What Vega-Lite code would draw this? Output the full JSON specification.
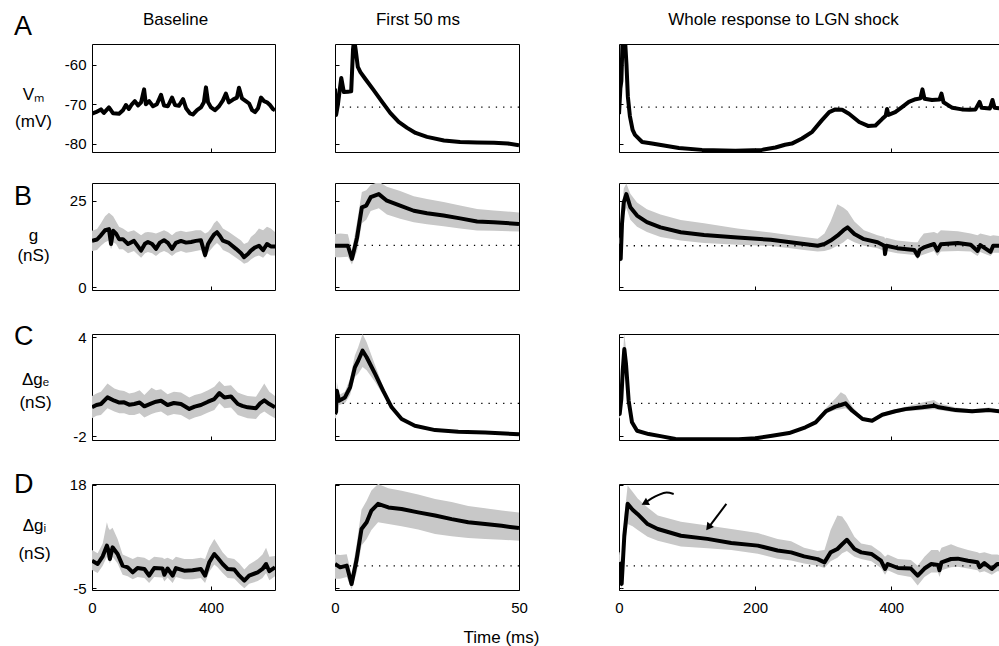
{
"$schema": "https://vega.github.io/schema/vega-lite/v6.json",
"background": "white",
"padding": {"left": 13, "top": 10, "right": 0, "bottom": 0},
"config": {
  "font": "Liberation Sans",
  "view": {"stroke": "black", "strokeWidth": 1},
  "axis": {"labelFont": "Liberation Sans", "labelFontSize": 15, "labelColor": "black", "tickColor": "black", "tickWidth": 1, "titleFont": "Liberation Sans", "titleFontSize": 17, "titleFontWeight": "normal", "titleColor": "black", "grid": false, "domain": false, "minExtent": 0, "labelExpr": "'' + datum.value"},
  "title": {"font": "Liberation Sans", "fontSize": 17, "fontWeight": "normal", "color": "black"}
},
"datasets": {
  "A1": [{"t":0,"v":-72.4},{"t":13,"v":-72.0},{"t":30,"v":-71.3},{"t":40,"v":-72.2},{"t":57,"v":-70.8},{"t":71,"v":-72.3},{"t":91,"v":-72.4},{"t":104,"v":-71.5},{"t":114,"v":-70.2},{"t":124,"v":-71.2},{"t":134,"v":-70.0},{"t":144,"v":-69.2},{"t":155,"v":-70.3},{"t":165,"v":-69.5},{"t":175,"v":-66.2},{"t":181,"v":-70.0},{"t":192,"v":-69.2},{"t":205,"v":-70.5},{"t":218,"v":-70.0},{"t":232,"v":-67.6},{"t":242,"v":-70.3},{"t":255,"v":-70.5},{"t":269,"v":-68.3},{"t":279,"v":-70.2},{"t":292,"v":-70.4},{"t":306,"v":-68.7},{"t":316,"v":-71.0},{"t":329,"v":-72.3},{"t":339,"v":-72.6},{"t":353,"v":-71.5},{"t":366,"v":-70.8},{"t":376,"v":-69.5},{"t":383,"v":-65.7},{"t":390,"v":-69.5},{"t":400,"v":-70.8},{"t":413,"v":-71.5},{"t":427,"v":-70.5},{"t":440,"v":-69.0},{"t":450,"v":-67.3},{"t":460,"v":-69.5},{"t":474,"v":-68.8},{"t":487,"v":-68.3},{"t":494,"v":-65.8},{"t":504,"v":-68.5},{"t":517,"v":-69.2},{"t":528,"v":-69.8},{"t":538,"v":-71.5},{"t":548,"v":-72.0},{"t":558,"v":-71.0},{"t":568,"v":-68.3},{"t":578,"v":-69.2},{"t":588,"v":-69.5},{"t":598,"v":-70.2},{"t":608,"v":-71.2},{"t":615,"v":-71.5}],
  "A2": [{"t":0,"v":-66},{"t":0.3,"v":-72.7},{"t":0.8,"v":-70},{"t":1.7,"v":-63.3},{"t":2.4,"v":-66.9},{"t":3.5,"v":-66.8},{"t":4.4,"v":-66.7},{"t":4.9,"v":-56},{"t":5.2,"v":-53.5},{"t":5.6,"v":-56},{"t":6.2,"v":-60.5},{"t":6.9,"v":-61.8},{"t":8.2,"v":-63.5},{"t":10.5,"v":-66.4},{"t":12.8,"v":-69.4},{"t":15,"v":-72.2},{"t":17.3,"v":-74.5},{"t":19.6,"v":-76.0},{"t":21.9,"v":-77.3},{"t":25,"v":-78.3},{"t":29.6,"v":-79.2},{"t":34,"v":-79.6},{"t":38.6,"v":-79.7},{"t":43.2,"v":-79.8},{"t":47,"v":-80.0},{"t":50,"v":-80.4}],
  "A3": [{"t":0,"v":-72.5},{"t":2,"v":-66},{"t":3.5,"v":-64},{"t":5,"v":-55},{"t":6,"v":-53.5},{"t":9,"v":-54},{"t":11,"v":-60},{"t":13,"v":-68},{"t":16,"v":-73},{"t":20,"v":-76.5},{"t":23.5,"v":-77.8},{"t":34,"v":-79.6},{"t":48.5,"v":-80.0},{"t":88,"v":-81.1},{"t":122,"v":-81.6},{"t":171,"v":-81.8},{"t":210,"v":-81.6},{"t":230,"v":-81.0},{"t":244,"v":-80.3},{"t":254,"v":-80.0},{"t":269,"v":-78.7},{"t":284,"v":-77.0},{"t":298,"v":-74.1},{"t":309,"v":-72.0},{"t":318,"v":-71.3},{"t":328,"v":-71.4},{"t":338,"v":-72.4},{"t":353,"v":-74.5},{"t":366,"v":-75.5},{"t":377,"v":-75.4},{"t":387,"v":-73.7},{"t":392,"v":-72.9},{"t":394,"v":-71.2},{"t":396,"v":-72.7},{"t":406,"v":-72.0},{"t":416,"v":-70.7},{"t":426,"v":-69.4},{"t":436,"v":-68.7},{"t":443,"v":-68.5},{"t":446,"v":-66.2},{"t":449,"v":-68.6},{"t":460,"v":-68.9},{"t":471,"v":-68.8},{"t":474,"v":-67.3},{"t":477,"v":-69.5},{"t":490,"v":-70.9},{"t":504,"v":-71.3},{"t":515,"v":-71.4},{"t":524,"v":-71.3},{"t":530,"v":-69.4},{"t":533,"v":-70.9},{"t":545,"v":-71.1},{"t":549,"v":-68.9},{"t":552,"v":-70.9},{"t":560,"v":-71.0}],
  "B1": [{"t":0,"v":13.45,"lo":10.5,"hi":16.3},{"t":17,"v":13.8,"lo":10.8,"hi":16.8},{"t":30,"v":15.0,"lo":12.0,"hi":18.5},{"t":44,"v":16.5,"lo":13.0,"hi":20.5},{"t":57,"v":16.8,"lo":13.5,"hi":21.5},{"t":64,"v":12.5,"lo":11.0,"hi":21.0},{"t":71,"v":16.3,"lo":13.0,"hi":20.5},{"t":81,"v":15.5,"lo":12.5,"hi":19.0},{"t":91,"v":13.9,"lo":11.0,"hi":17.5},{"t":104,"v":13.9,"lo":11.0,"hi":17.0},{"t":121,"v":12.5,"lo":9.8,"hi":16.0},{"t":141,"v":13.4,"lo":10.5,"hi":16.5},{"t":165,"v":10.6,"lo":8.5,"hi":15.0},{"t":178,"v":12.6,"lo":9.8,"hi":15.8},{"t":188,"v":13.1,"lo":10.2,"hi":16.0},{"t":202,"v":12.5,"lo":9.8,"hi":15.8},{"t":215,"v":11.1,"lo":9.0,"hi":15.5},{"t":228,"v":12.9,"lo":10.0,"hi":16.0},{"t":242,"v":13.6,"lo":10.5,"hi":16.5},{"t":255,"v":12.8,"lo":10.0,"hi":16.0},{"t":269,"v":11.1,"lo":9.0,"hi":15.0},{"t":282,"v":12.8,"lo":10.0,"hi":16.0},{"t":299,"v":13.4,"lo":10.5,"hi":16.3},{"t":316,"v":12.9,"lo":10.0,"hi":16.0},{"t":333,"v":13.1,"lo":10.2,"hi":16.2},{"t":349,"v":13.4,"lo":10.5,"hi":16.5},{"t":366,"v":13.6,"lo":10.8,"hi":16.5},{"t":380,"v":9.3,"lo":8.0,"hi":15.5},{"t":390,"v":12.5,"lo":10.0,"hi":16.0},{"t":400,"v":13.9,"lo":11.0,"hi":17.0},{"t":410,"v":15.2,"lo":12.0,"hi":18.5},{"t":420,"v":15.9,"lo":12.8,"hi":19.3},{"t":430,"v":14.8,"lo":12.0,"hi":18.3},{"t":440,"v":13.45,"lo":10.8,"hi":17.0},{"t":460,"v":12.8,"lo":10.0,"hi":16.0},{"t":484,"v":11.1,"lo":8.5,"hi":14.5},{"t":501,"v":9.8,"lo":7.5,"hi":13.5},{"t":511,"v":8.7,"lo":6.8,"hi":12.5},{"t":524,"v":9.6,"lo":7.2,"hi":13.0},{"t":534,"v":10.6,"lo":8.0,"hi":14.5},{"t":548,"v":11.5,"lo":8.8,"hi":15.5},{"t":561,"v":12.0,"lo":9.2,"hi":17.0},{"t":575,"v":10.7,"lo":8.5,"hi":16.5},{"t":588,"v":12.5,"lo":9.8,"hi":17.5},{"t":601,"v":11.8,"lo":9.2,"hi":17.0},{"t":615,"v":11.8,"lo":9.2,"hi":16.0}],
  "B2": [{"t":0,"v":12.0,"lo":8.7,"hi":15.4},{"t":1.5,"v":12.0,"lo":8.7,"hi":15.5},{"t":3.5,"v":12.0,"lo":8.8,"hi":15.3},{"t":4.6,"v":8.2,"lo":6.6,"hi":10.5},{"t":6.0,"v":14.4,"lo":10.5,"hi":19.0},{"t":7.3,"v":23.1,"lo":18.5,"hi":27.5},{"t":8.5,"v":23.6,"lo":19.5,"hi":28.0},{"t":9.7,"v":26.0,"lo":22.0,"hi":29.5},{"t":11.9,"v":26.9,"lo":22.8,"hi":30.5},{"t":14.1,"v":25.0,"lo":21.0,"hi":29.0},{"t":17.7,"v":23.6,"lo":19.8,"hi":27.8},{"t":21.4,"v":22.1,"lo":18.8,"hi":26.3},{"t":25,"v":21.4,"lo":18.2,"hi":25.5},{"t":29.5,"v":20.7,"lo":17.6,"hi":24.6},{"t":34,"v":19.9,"lo":17.0,"hi":23.6},{"t":38.6,"v":19.0,"lo":16.4,"hi":22.6},{"t":43.1,"v":18.8,"lo":16.3,"hi":22.2},{"t":50,"v":18.3,"lo":16.1,"hi":21.6}],
  "B3": [{"t":0,"v":11.5,"lo":9.5,"hi":14.0},{"t":1,"v":12.0,"lo":9.5,"hi":14.5},{"t":2.5,"v":8.2,"lo":6.5,"hi":10.0},{"t":4.4,"v":18.3,"lo":14.5,"hi":22.0},{"t":7,"v":24.5,"lo":20.5,"hi":28.5},{"t":10.8,"v":26.9,"lo":23.0,"hi":30.0},{"t":16.7,"v":23.1,"lo":19.5,"hi":27.0},{"t":26.5,"v":20.7,"lo":17.5,"hi":24.5},{"t":41,"v":18.8,"lo":16.0,"hi":22.5},{"t":61,"v":17.3,"lo":14.5,"hi":21.0},{"t":90.7,"v":15.9,"lo":13.5,"hi":19.4},{"t":125,"v":15.1,"lo":12.8,"hi":18.5},{"t":174,"v":14.4,"lo":12.3,"hi":17.0},{"t":223,"v":13.7,"lo":11.9,"hi":15.8},{"t":252,"v":13.0,"lo":11.3,"hi":15.0},{"t":272,"v":12.5,"lo":10.8,"hi":14.5},{"t":292,"v":12.0,"lo":10.3,"hi":14.0},{"t":302,"v":12.5,"lo":10.5,"hi":15.5},{"t":311,"v":13.5,"lo":11.0,"hi":19.0},{"t":321,"v":14.9,"lo":12.0,"hi":24.0},{"t":330,"v":16.5,"lo":13.0,"hi":23.0},{"t":336,"v":17.3,"lo":14.0,"hi":22.0},{"t":346,"v":15.4,"lo":13.0,"hi":19.0},{"t":360,"v":13.9,"lo":12.0,"hi":16.5},{"t":380,"v":13.0,"lo":11.3,"hi":15.0},{"t":390,"v":12.0,"lo":10.5,"hi":14.5},{"t":391,"v":9.6,"lo":8.5,"hi":14.0},{"t":393,"v":12.0,"lo":10.5,"hi":14.3},{"t":409,"v":11.3,"lo":9.8,"hi":13.5},{"t":434,"v":10.8,"lo":9.3,"hi":13.0},{"t":439,"v":9.1,"lo":8.0,"hi":13.0},{"t":442,"v":10.8,"lo":9.0,"hi":14.0},{"t":448,"v":11.5,"lo":9.5,"hi":15.5},{"t":463,"v":12.5,"lo":10.5,"hi":16.0},{"t":468,"v":10.6,"lo":9.0,"hi":15.5},{"t":473,"v":12.4,"lo":10.3,"hi":16.5},{"t":498,"v":12.8,"lo":10.5,"hi":16.2},{"t":517,"v":12.3,"lo":10.3,"hi":15.5},{"t":527,"v":10.5,"lo":9.0,"hi":15.0},{"t":531,"v":12.2,"lo":10.2,"hi":15.5},{"t":546,"v":10.2,"lo":9.0,"hi":14.8},{"t":550,"v":12.0,"lo":10.0,"hi":15.0},{"t":560,"v":12.0,"lo":10.0,"hi":14.8}],
  "C1": [{"t":0,"v":-0.24,"lo":-0.9,"hi":0.45},{"t":15,"v":-0.1,"lo":-0.75,"hi":0.6},{"t":30,"v":-0.04,"lo":-0.7,"hi":0.7},{"t":52,"v":0.36,"lo":-0.3,"hi":1.2},{"t":75,"v":0.16,"lo":-0.5,"hi":0.9},{"t":92,"v":0.05,"lo":-0.6,"hi":0.8},{"t":108,"v":0.06,"lo":-0.6,"hi":0.75},{"t":125,"v":-0.08,"lo":-0.7,"hi":0.6},{"t":142,"v":-0.04,"lo":-0.7,"hi":0.65},{"t":160,"v":0.05,"lo":-0.6,"hi":0.8},{"t":176,"v":-0.18,"lo":-0.85,"hi":0.5},{"t":200,"v":0.0,"lo":-0.65,"hi":0.95},{"t":215,"v":0.1,"lo":-0.55,"hi":0.8},{"t":232,"v":0.16,"lo":-0.5,"hi":0.85},{"t":254,"v":-0.10,"lo":-0.75,"hi":0.55},{"t":275,"v":0.02,"lo":-0.65,"hi":0.7},{"t":299,"v":-0.04,"lo":-0.7,"hi":0.65},{"t":327,"v":-0.34,"lo":-1.0,"hi":0.35},{"t":345,"v":-0.2,"lo":-0.85,"hi":0.5},{"t":366,"v":-0.10,"lo":-0.75,"hi":0.6},{"t":390,"v":0.1,"lo":-0.55,"hi":0.8},{"t":411,"v":0.26,"lo":-0.4,"hi":1.0},{"t":428,"v":0.62,"lo":0.0,"hi":1.35},{"t":445,"v":0.36,"lo":-0.3,"hi":1.05},{"t":467,"v":0.42,"lo":-0.25,"hi":1.1},{"t":490,"v":-0.04,"lo":-0.7,"hi":0.65},{"t":505,"v":-0.15,"lo":-0.8,"hi":0.55},{"t":523,"v":-0.24,"lo":-0.9,"hi":0.45},{"t":551,"v":-0.30,"lo":-0.95,"hi":0.4},{"t":565,"v":0.0,"lo":-0.65,"hi":0.8},{"t":579,"v":0.18,"lo":-0.5,"hi":1.2},{"t":596,"v":-0.04,"lo":-0.7,"hi":0.7},{"t":615,"v":-0.24,"lo":-0.9,"hi":0.45}],
  "C2": [{"t":0,"v":-0.65,"lo":-0.9,"hi":-0.3},{"t":0.3,"v":-0.5,"lo":-0.9,"hi":0.0},{"t":0.5,"v":0.76,"lo":0.4,"hi":1.3},{"t":1.1,"v":0.16,"lo":-0.1,"hi":0.5},{"t":2.7,"v":0.36,"lo":0.0,"hi":0.7},{"t":4.1,"v":0.97,"lo":0.5,"hi":1.5},{"t":5.4,"v":2.18,"lo":1.6,"hi":2.9},{"t":6.3,"v":2.58,"lo":1.8,"hi":3.4},{"t":7.5,"v":3.19,"lo":2.2,"hi":4.2},{"t":8.6,"v":2.79,"lo":2.0,"hi":3.7},{"t":10.9,"v":1.78,"lo":1.3,"hi":2.3},{"t":13.1,"v":0.76,"lo":0.5,"hi":1.0},{"t":15.4,"v":-0.24,"lo":-0.35,"hi":-0.1},{"t":18.1,"v":-0.95,"lo":-1.0,"hi":-0.85},{"t":21.7,"v":-1.36,"lo":-1.4,"hi":-1.3},{"t":27.2,"v":-1.62,"lo":-1.66,"hi":-1.58},{"t":33.5,"v":-1.72,"lo":-1.75,"hi":-1.69},{"t":40.8,"v":-1.76,"lo":-1.79,"hi":-1.73},{"t":50,"v":-1.87,"lo":-1.9,"hi":-1.84}],
  "C3": [{"t":0,"v":-0.65,"lo":-0.9,"hi":-0.3},{"t":1,"v":-0.65,"lo":-0.9,"hi":-0.3},{"t":3.4,"v":0.26,"lo":-0.1,"hi":0.7},{"t":5.5,"v":2.0,"lo":1.3,"hi":2.8},{"t":7.8,"v":3.29,"lo":2.0,"hi":4.2},{"t":10.3,"v":2.38,"lo":1.6,"hi":3.3},{"t":14.2,"v":0.16,"lo":-0.1,"hi":0.5},{"t":19.1,"v":-1.15,"lo":-1.25,"hi":-1.0},{"t":26.5,"v":-1.66,"lo":-1.72,"hi":-1.6},{"t":43.6,"v":-1.86,"lo":-1.9,"hi":-1.82},{"t":63,"v":-2.0,"lo":-2.04,"hi":-1.96},{"t":83,"v":-2.16,"lo":-2.2,"hi":-2.12},{"t":127,"v":-2.18,"lo":-2.22,"hi":-2.14},{"t":176,"v":-2.18,"lo":-2.22,"hi":-2.14},{"t":201,"v":-2.12,"lo":-2.16,"hi":-2.08},{"t":225,"v":-1.96,"lo":-2.0,"hi":-1.92},{"t":250,"v":-1.80,"lo":-1.85,"hi":-1.75},{"t":274,"v":-1.45,"lo":-1.5,"hi":-1.38},{"t":289,"v":-1.15,"lo":-1.22,"hi":-1.05},{"t":304,"v":-0.48,"lo":-0.6,"hi":-0.3},{"t":318,"v":-0.2,"lo":-0.4,"hi":0.3},{"t":326,"v":-0.1,"lo":-0.35,"hi":0.67},{"t":333,"v":0.0,"lo":-0.3,"hi":0.5},{"t":343,"v":-0.45,"lo":-0.6,"hi":-0.2},{"t":358,"v":-0.95,"lo":-1.05,"hi":-0.85},{"t":372,"v":-1.05,"lo":-1.12,"hi":-0.95},{"t":387,"v":-0.69,"lo":-0.78,"hi":-0.58},{"t":406,"v":-0.48,"lo":-0.6,"hi":-0.35},{"t":421,"v":-0.35,"lo":-0.48,"hi":-0.2},{"t":446,"v":-0.24,"lo":-0.4,"hi":0.05},{"t":463,"v":-0.14,"lo":-0.35,"hi":0.2},{"t":470,"v":-0.24,"lo":-0.4,"hi":0.0},{"t":495,"v":-0.41,"lo":-0.55,"hi":-0.25},{"t":519,"v":-0.48,"lo":-0.6,"hi":-0.35},{"t":544,"v":-0.41,"lo":-0.52,"hi":-0.25},{"t":560,"v":-0.48,"lo":-0.58,"hi":-0.38}],
  "D1": [{"t":0,"v":1.14,"lo":-0.9,"hi":3.5},{"t":19,"v":0.41,"lo":-1.6,"hi":2.8},{"t":36,"v":2.12,"lo":0.0,"hi":5.0},{"t":50,"v":4.49,"lo":2.0,"hi":9.7},{"t":55,"v":3.5,"lo":1.5,"hi":8.5},{"t":60,"v":1.52,"lo":0.5,"hi":8.0},{"t":69,"v":4.12,"lo":2.0,"hi":8.5},{"t":86,"v":2.64,"lo":0.5,"hi":6.0},{"t":103,"v":0.03,"lo":-2.0,"hi":2.5},{"t":120,"v":-0.33,"lo":-2.3,"hi":2.0},{"t":137,"v":-1.44,"lo":-3.0,"hi":1.5},{"t":153,"v":-0.5,"lo":-2.5,"hi":2.0},{"t":176,"v":-0.70,"lo":-2.7,"hi":1.8},{"t":192,"v":-2.19,"lo":-3.8,"hi":1.2},{"t":209,"v":-0.5,"lo":-2.5,"hi":2.0},{"t":237,"v":-0.6,"lo":-2.6,"hi":1.8},{"t":243,"v":-2.0,"lo":-3.5,"hi":1.5},{"t":254,"v":-0.6,"lo":-2.6,"hi":1.8},{"t":271,"v":-2.19,"lo":-3.8,"hi":1.3},{"t":282,"v":-0.5,"lo":-2.5,"hi":2.0},{"t":310,"v":-1.08,"lo":-3.0,"hi":1.5},{"t":338,"v":-1.0,"lo":-3.0,"hi":1.5},{"t":366,"v":-0.7,"lo":-2.7,"hi":1.8},{"t":380,"v":-2.19,"lo":-3.8,"hi":1.5},{"t":394,"v":0.78,"lo":-1.3,"hi":4.0},{"t":411,"v":2.64,"lo":0.3,"hi":6.0},{"t":422,"v":1.8,"lo":-0.3,"hi":4.8},{"t":439,"v":0.41,"lo":-1.6,"hi":3.0},{"t":456,"v":-0.7,"lo":-2.7,"hi":1.8},{"t":478,"v":-0.8,"lo":-2.8,"hi":1.5},{"t":495,"v":-2.19,"lo":-4.0,"hi":0.5},{"t":512,"v":-3.31,"lo":-5.0,"hi":-0.8},{"t":528,"v":-2.19,"lo":-4.0,"hi":0.3},{"t":557,"v":-1.44,"lo":-3.4,"hi":1.5},{"t":573,"v":-0.7,"lo":-2.7,"hi":2.5},{"t":585,"v":0.41,"lo":-1.6,"hi":4.0},{"t":596,"v":-1.2,"lo":-3.2,"hi":2.0},{"t":615,"v":-0.33,"lo":-2.3,"hi":2.2}],
  "D2": [{"t":0,"v":0.41,"lo":-2.9,"hi":2.6},{"t":1.4,"v":-0.33,"lo":-2.9,"hi":2.4},{"t":3.2,"v":0.04,"lo":-2.5,"hi":2.6},{"t":4.5,"v":-4.04,"lo":-5.2,"hi":-2.0},{"t":5.9,"v":1.52,"lo":-1.5,"hi":5.0},{"t":7.2,"v":8.2,"lo":4.5,"hi":12.5},{"t":8.6,"v":9.7,"lo":6.0,"hi":14.5},{"t":9.9,"v":12.3,"lo":8.0,"hi":16.8},{"t":11.7,"v":13.8,"lo":9.7,"hi":18.2},{"t":14.5,"v":13.0,"lo":9.3,"hi":17.3},{"t":18.1,"v":12.65,"lo":8.8,"hi":16.7},{"t":22.6,"v":11.9,"lo":8.1,"hi":15.9},{"t":27.2,"v":11.2,"lo":7.1,"hi":14.9},{"t":31.7,"v":10.4,"lo":6.6,"hi":14.2},{"t":36.2,"v":9.7,"lo":6.2,"hi":13.3},{"t":40.8,"v":9.3,"lo":6.0,"hi":12.8},{"t":45.3,"v":8.9,"lo":5.8,"hi":12.3},{"t":50,"v":8.4,"lo":5.6,"hi":11.9}],
  "D3": [{"t":0,"v":0.78,"lo":-1.5,"hi":3.0},{"t":1,"v":0.5,"lo":-2.0,"hi":3.0},{"t":3.9,"v":-4.04,"lo":-5.3,"hi":-1.5},{"t":7.8,"v":6.7,"lo":3.0,"hi":11.0},{"t":12.7,"v":13.8,"lo":9.3,"hi":17.9},{"t":20,"v":12.5,"lo":8.8,"hi":16.5},{"t":27.5,"v":11.5,"lo":8.0,"hi":15.0},{"t":42,"v":9.3,"lo":6.5,"hi":13.0},{"t":57,"v":8.2,"lo":5.6,"hi":11.2},{"t":91,"v":6.7,"lo":4.3,"hi":9.8},{"t":130,"v":6.0,"lo":3.9,"hi":9.0},{"t":165,"v":5.1,"lo":3.5,"hi":8.2},{"t":204,"v":4.5,"lo":2.7,"hi":7.3},{"t":233,"v":3.4,"lo":1.6,"hi":6.0},{"t":253,"v":3.0,"lo":1.2,"hi":5.5},{"t":272,"v":2.1,"lo":0.5,"hi":4.0},{"t":292,"v":1.5,"lo":0.0,"hi":3.3},{"t":302,"v":0.78,"lo":-0.5,"hi":3.5},{"t":311,"v":3.0,"lo":1.0,"hi":8.0},{"t":321,"v":3.75,"lo":1.8,"hi":11.2},{"t":328,"v":4.8,"lo":2.8,"hi":11.0},{"t":335,"v":5.8,"lo":3.3,"hi":9.5},{"t":346,"v":3.75,"lo":2.0,"hi":6.5},{"t":356,"v":3.0,"lo":1.5,"hi":5.0},{"t":371,"v":2.64,"lo":1.0,"hi":4.5},{"t":385,"v":1.14,"lo":-0.5,"hi":3.0},{"t":391,"v":-0.70,"lo":-2.0,"hi":2.0},{"t":395,"v":0.41,"lo":-1.0,"hi":2.5},{"t":410,"v":-0.48,"lo":-2.0,"hi":1.5},{"t":429,"v":-0.6,"lo":-2.5,"hi":1.3},{"t":439,"v":-2.19,"lo":-4.4,"hi":0.0},{"t":449,"v":-0.6,"lo":-2.5,"hi":2.0},{"t":459,"v":0.41,"lo":-1.5,"hi":3.5},{"t":469,"v":0.2,"lo":-1.5,"hi":3.5},{"t":471,"v":-1.0,"lo":-2.5,"hi":3.0},{"t":474,"v":0.78,"lo":-1.0,"hi":4.0},{"t":488,"v":1.52,"lo":-0.3,"hi":4.8},{"t":498,"v":1.6,"lo":-0.2,"hi":4.2},{"t":513,"v":1.14,"lo":-0.6,"hi":3.5},{"t":527,"v":0.78,"lo":-1.0,"hi":3.0},{"t":530,"v":-0.3,"lo":-1.5,"hi":2.8},{"t":537,"v":0.6,"lo":-1.2,"hi":3.0},{"t":548,"v":-0.7,"lo":-2.0,"hi":2.5},{"t":556,"v":0.41,"lo":-1.2,"hi":2.5},{"t":560,"v":0.41,"lo":-1.2,"hi":2.4}],
  "arrowCurve": [{"t":80.4,"v":16.0},{"t":70,"v":16.3},{"t":58.3,"v":15.8},{"t":48,"v":15.0},{"t":40,"v":14.2}],
  "arrowStraight": [{"t":157.8,"v":13.8},{"t":134,"v":9.0}],
  "headCurve": [{"t":39.5,"v":14.1}],
  "headStraight": [{"t":132.5,"v":8.8}]
},
"hconcat": [
  {
    "spacing": 29,
    "vconcat": [
      {
        "width": 183, "height": 108,
        "title": {"text": "Baseline", "frame": "group", "anchor": "middle", "dx": -8, "baseline": "alphabetic", "offset": -28.5},
        "layer": [
          {"data": {"name": "A1"}, "mark": {"type": "line", "color": "black", "strokeWidth": 4, "clip": true, "strokeJoin": "round"},
           "encoding": {"x": {"field": "t", "type": "quantitative", "scale": {"domain": [0, 615], "nice": false, "zero": false}, "axis": {"values": [0, 400], "labels": false, "tickSize": -4, "title": null}},
                        "y": {"field": "v", "type": "quantitative", "scale": {"domain": [-82.14, -54.66], "nice": false, "zero": false}, "axis": {"values": [-80, -70, -60], "tickSize": -4, "labelPadding": 10, "title": ["Vₘ", "(mV)"], "titleAngle": 0, "titleX": -59, "titleY": 50, "titleAlign": "center", "titleBaseline": "middle", "titleLineHeight": 27}}}},
          {"data": {"values": [{"label": "A"}]}, "mark": {"type": "text", "fontSize": 27, "align": "left", "baseline": "alphabetic", "color": "black"},
           "encoding": {"x": {"datum": -262}, "y": {"datum": -52.37}, "text": {"field": "label"}}}
        ]
      },
      {
        "spacing": 44, "bounds": "flush",
        "vconcat": [
          {
            "width": 183, "height": 107,
            "layer": [
              {"data": {"name": "B1"}, "mark": {"type": "area", "color": "#c8c8c8", "clip": true},
               "encoding": {"x": {"field": "t", "type": "quantitative", "scale": {"domain": [0, 615], "nice": false, "zero": false}, "axis": {"values": [0, 400], "labels": false, "tickSize": -4, "title": null}},
                            "y": {"field": "lo", "type": "quantitative", "scale": {"domain": [-0.78, 30.11], "nice": false, "zero": false}, "axis": {"values": [0, 25], "tickSize": -4, "labelPadding": 10, "title": ["g", "(nS)"], "titleAngle": 0, "titleX": -59, "titleY": 52, "titleAlign": "center", "titleBaseline": "middle", "titleLineHeight": 20}},
                            "y2": {"field": "hi"}}},
              {"data": {"name": "B1"}, "mark": {"type": "line", "color": "black", "strokeWidth": 4, "clip": true, "strokeJoin": "round"},
               "encoding": {"x": {"field": "t", "type": "quantitative"}, "y": {"field": "v", "type": "quantitative"}}},
              {"data": {"values": [{"label": "B"}]}, "mark": {"type": "text", "fontSize": 27, "align": "left", "baseline": "alphabetic", "color": "black"},
               "encoding": {"x": {"datum": -262}, "y": {"datum": 23.76}, "text": {"field": "label"}}}
            ]
          },
          {
            "width": 183, "height": 106,
            "layer": [
              {"data": {"name": "C1"}, "mark": {"type": "area", "color": "#c8c8c8", "clip": true},
               "encoding": {"x": {"field": "t", "type": "quantitative", "scale": {"domain": [0, 615], "nice": false, "zero": false}, "axis": {"values": [0, 400], "labels": false, "tickSize": -4, "title": null}},
                            "y": {"field": "lo", "type": "quantitative", "scale": {"domain": [-2.22, 4.2], "nice": false, "zero": false}, "axis": {"values": [-2, 4], "tickSize": -4, "labelPadding": 10, "title": ["Δgₑ", "(nS)"], "titleAngle": 0, "titleX": -57, "titleY": 45, "titleAlign": "center", "titleBaseline": "middle", "titleLineHeight": 23}},
                            "y2": {"field": "hi"}}},
              {"data": {"name": "C1"}, "mark": {"type": "line", "color": "black", "strokeWidth": 4, "clip": true, "strokeJoin": "round"},
               "encoding": {"x": {"field": "t", "type": "quantitative"}, "y": {"field": "v", "type": "quantitative"}}},
              {"data": {"values": [{"label": "C"}]}, "mark": {"type": "text", "fontSize": 27, "align": "left", "baseline": "alphabetic", "color": "black"},
               "encoding": {"x": {"datum": -262}, "y": {"datum": 3.53}, "text": {"field": "label"}}}
            ]
          },
          {
            "width": 183, "height": 106,
            "layer": [
              {"data": {"name": "D1"}, "mark": {"type": "area", "color": "#c8c8c8", "clip": true},
               "encoding": {"x": {"field": "t", "type": "quantitative", "scale": {"domain": [0, 615], "nice": false, "zero": false}, "axis": {"values": [0, 400], "labelFlush": false, "tickSize": -4, "labelPadding": 14, "title": null}},
                            "y": {"field": "lo", "type": "quantitative", "scale": {"domain": [-5.38, 18.22], "nice": false, "zero": false}, "axis": {"values": [-5, 18], "tickSize": -4, "labelPadding": 10, "title": ["Δgᵢ", "(nS)"], "titleAngle": 0, "titleX": -58, "titleY": 41, "titleAlign": "center", "titleBaseline": "middle", "titleLineHeight": 28}},
                            "y2": {"field": "hi"}}},
              {"data": {"name": "D1"}, "mark": {"type": "line", "color": "black", "strokeWidth": 4, "clip": true, "strokeJoin": "round"},
               "encoding": {"x": {"field": "t", "type": "quantitative"}, "y": {"field": "v", "type": "quantitative"}}},
              {"data": {"values": [{"label": "D"}]}, "mark": {"type": "text", "fontSize": 27, "align": "left", "baseline": "alphabetic", "color": "black"},
               "encoding": {"x": {"datum": -262}, "y": {"datum": 16.2}, "text": {"field": "label"}}}
            ]
          }
        ]
      }
    ]
  },
  {
    "spacing": 74,
    "hconcat": [
      {
        "spacing": 29,
        "vconcat": [
          {
            "width": 184, "height": 108,
            "title": {"text": "First 50 ms", "frame": "group", "anchor": "middle", "dx": -9, "baseline": "alphabetic", "offset": 2.5},
            "layer": [
              {"data": {"values": [{"base": -70.7}]}, "mark": {"type": "rule", "color": "black", "strokeWidth": 1.3, "strokeDash": [1.3, 6]},
               "encoding": {"y": {"field": "base", "type": "quantitative", "scale": {"domain": [-82.14, -54.66], "nice": false, "zero": false}, "axis": {"values": [-80, -70, -60], "labels": false, "tickSize": -4, "title": null}}}},
              {"data": {"name": "A2"}, "mark": {"type": "line", "color": "black", "strokeWidth": 4, "clip": true, "strokeJoin": "round"},
               "encoding": {"x": {"field": "t", "type": "quantitative", "scale": {"domain": [0, 50], "nice": false, "zero": false}, "axis": {"values": [0, 50], "labels": false, "tickSize": -4, "title": null}},
                            "y": {"field": "v", "type": "quantitative"}}}
            ]
          },
          {
            "spacing": 44, "bounds": "flush",
            "vconcat": [
              {
                "width": 184, "height": 107,
                "layer": [
                  {"data": {"name": "B2"}, "mark": {"type": "area", "color": "#c8c8c8", "clip": true},
                   "encoding": {"x": {"field": "t", "type": "quantitative", "scale": {"domain": [0, 50], "nice": false, "zero": false}, "axis": {"values": [0, 50], "labels": false, "tickSize": -4, "title": null}},
                                "y": {"field": "lo", "type": "quantitative", "scale": {"domain": [-0.78, 30.11], "nice": false, "zero": false}, "axis": {"values": [0, 25], "labels": false, "tickSize": -4, "title": null}},
                                "y2": {"field": "hi"}}},
                  {"data": {"values": [{"base": 12.1}]}, "mark": {"type": "rule", "color": "black", "strokeWidth": 1.3, "strokeDash": [1.3, 6]},
                   "encoding": {"y": {"field": "base", "type": "quantitative"}}},
                  {"data": {"name": "B2"}, "mark": {"type": "line", "color": "black", "strokeWidth": 4, "clip": true, "strokeJoin": "round"},
                   "encoding": {"x": {"field": "t", "type": "quantitative"}, "y": {"field": "v", "type": "quantitative"}}}
                ]
              },
              {
                "width": 184, "height": 106,
                "layer": [
                  {"data": {"name": "C2"}, "mark": {"type": "area", "color": "#c8c8c8", "clip": true},
                   "encoding": {"x": {"field": "t", "type": "quantitative", "scale": {"domain": [0, 50], "nice": false, "zero": false}, "axis": {"values": [0, 50], "labels": false, "tickSize": -4, "title": null}},
                                "y": {"field": "lo", "type": "quantitative", "scale": {"domain": [-2.22, 4.2], "nice": false, "zero": false}, "axis": {"values": [-2, 4], "labels": false, "tickSize": -4, "title": null}},
                                "y2": {"field": "hi"}}},
                  {"data": {"values": [{"base": 0}]}, "mark": {"type": "rule", "color": "black", "strokeWidth": 1.3, "strokeDash": [1.3, 6]},
                   "encoding": {"y": {"field": "base", "type": "quantitative"}}},
                  {"data": {"name": "C2"}, "mark": {"type": "line", "color": "black", "strokeWidth": 4, "clip": true, "strokeJoin": "round"},
                   "encoding": {"x": {"field": "t", "type": "quantitative"}, "y": {"field": "v", "type": "quantitative"}}}
                ]
              },
              {
                "width": 184, "height": 106,
                "layer": [
                  {"data": {"name": "D2"}, "mark": {"type": "area", "color": "#c8c8c8", "clip": true},
                   "encoding": {"x": {"field": "t", "type": "quantitative", "scale": {"domain": [0, 50], "nice": false, "zero": false}, "axis": {"values": [0, 50], "labelFlush": false, "tickSize": -4, "labelPadding": 14, "title": "Time (ms)", "titleX": 166, "titleY": 52, "titleAlign": "center", "titleBaseline": "alphabetic"}},
                                "y": {"field": "lo", "type": "quantitative", "scale": {"domain": [-5.38, 18.22], "nice": false, "zero": false}, "axis": {"values": [-5, 18], "labels": false, "tickSize": -4, "title": null}},
                                "y2": {"field": "hi"}}},
                  {"data": {"values": [{"base": 0}]}, "mark": {"type": "rule", "color": "black", "strokeWidth": 1.3, "strokeDash": [1.3, 6]},
                   "encoding": {"y": {"field": "base", "type": "quantitative"}}},
                  {"data": {"name": "D2"}, "mark": {"type": "line", "color": "black", "strokeWidth": 4, "clip": true, "strokeJoin": "round"},
                   "encoding": {"x": {"field": "t", "type": "quantitative"}, "y": {"field": "v", "type": "quantitative"}}}
                ]
              }
            ]
          }
        ]
      },
      {
        "spacing": 29,
        "vconcat": [
          {
            "width": 381, "height": 108,
            "title": {"text": "Whole response to LGN shock", "frame": "group", "anchor": "middle", "dx": -26, "baseline": "alphabetic", "offset": 2.5},
            "layer": [
              {"data": {"values": [{"base": -70.7}]}, "mark": {"type": "rule", "color": "black", "strokeWidth": 1.3, "strokeDash": [1.3, 6]},
               "encoding": {"y": {"field": "base", "type": "quantitative", "scale": {"domain": [-82.14, -54.66], "nice": false, "zero": false}, "axis": {"values": [-80, -70, -60], "labels": false, "tickSize": -4, "title": null}}}},
              {"data": {"name": "A3"}, "mark": {"type": "line", "color": "black", "strokeWidth": 4, "clip": true, "strokeJoin": "round"},
               "encoding": {"x": {"field": "t", "type": "quantitative", "scale": {"domain": [0, 560], "nice": false, "zero": false}, "axis": {"values": [0, 200, 400], "labels": false, "tickSize": -4, "title": null}},
                            "y": {"field": "v", "type": "quantitative"}}}
            ]
          },
          {
            "spacing": 44, "bounds": "flush",
            "vconcat": [
              {
                "width": 381, "height": 107,
                "layer": [
                  {"data": {"name": "B3"}, "mark": {"type": "area", "color": "#c8c8c8", "clip": true},
                   "encoding": {"x": {"field": "t", "type": "quantitative", "scale": {"domain": [0, 560], "nice": false, "zero": false}, "axis": {"values": [0, 200, 400], "labels": false, "tickSize": -4, "title": null}},
                                "y": {"field": "lo", "type": "quantitative", "scale": {"domain": [-0.78, 30.11], "nice": false, "zero": false}, "axis": {"values": [0, 25], "labels": false, "tickSize": -4, "title": null}},
                                "y2": {"field": "hi"}}},
                  {"data": {"values": [{"base": 12.0}]}, "mark": {"type": "rule", "color": "black", "strokeWidth": 1.3, "strokeDash": [1.3, 6]},
                   "encoding": {"y": {"field": "base", "type": "quantitative"}}},
                  {"data": {"name": "B3"}, "mark": {"type": "line", "color": "black", "strokeWidth": 4, "clip": true, "strokeJoin": "round"},
                   "encoding": {"x": {"field": "t", "type": "quantitative"}, "y": {"field": "v", "type": "quantitative"}}}
                ]
              },
              {
                "width": 381, "height": 106,
                "layer": [
                  {"data": {"name": "C3"}, "mark": {"type": "area", "color": "#c8c8c8", "clip": true},
                   "encoding": {"x": {"field": "t", "type": "quantitative", "scale": {"domain": [0, 560], "nice": false, "zero": false}, "axis": {"values": [0, 200, 400], "labels": false, "tickSize": -4, "title": null}},
                                "y": {"field": "lo", "type": "quantitative", "scale": {"domain": [-2.22, 4.2], "nice": false, "zero": false}, "axis": {"values": [-2, 4], "labels": false, "tickSize": -4, "title": null}},
                                "y2": {"field": "hi"}}},
                  {"data": {"values": [{"base": 0}]}, "mark": {"type": "rule", "color": "black", "strokeWidth": 1.3, "strokeDash": [1.3, 6]},
                   "encoding": {"y": {"field": "base", "type": "quantitative"}}},
                  {"data": {"name": "C3"}, "mark": {"type": "line", "color": "black", "strokeWidth": 4, "clip": true, "strokeJoin": "round"},
                   "encoding": {"x": {"field": "t", "type": "quantitative"}, "y": {"field": "v", "type": "quantitative"}}}
                ]
              },
              {
                "width": 381, "height": 106,
                "layer": [
                  {"data": {"name": "D3"}, "mark": {"type": "area", "color": "#c8c8c8", "clip": true},
                   "encoding": {"x": {"field": "t", "type": "quantitative", "scale": {"domain": [0, 560], "nice": false, "zero": false}, "axis": {"values": [0, 200, 400], "labelFlush": false, "tickSize": -4, "labelPadding": 14, "title": null}},
                                "y": {"field": "lo", "type": "quantitative", "scale": {"domain": [-5.38, 18.22], "nice": false, "zero": false}, "axis": {"values": [-5, 18], "labels": false, "tickSize": -4, "title": null}},
                                "y2": {"field": "hi"}}},
                  {"data": {"values": [{"base": 0}]}, "mark": {"type": "rule", "color": "black", "strokeWidth": 1.3, "strokeDash": [1.3, 6]},
                   "encoding": {"y": {"field": "base", "type": "quantitative"}}},
                  {"data": {"name": "D3"}, "mark": {"type": "line", "color": "black", "strokeWidth": 4, "clip": true, "strokeJoin": "round"},
                   "encoding": {"x": {"field": "t", "type": "quantitative"}, "y": {"field": "v", "type": "quantitative"}}},
                  {"data": {"name": "arrowCurve"}, "mark": {"type": "line", "color": "black", "strokeWidth": 2, "interpolate": "monotone"},
                   "encoding": {"x": {"field": "t", "type": "quantitative"}, "y": {"field": "v", "type": "quantitative"}}},
                  {"data": {"name": "arrowStraight"}, "mark": {"type": "line", "color": "black", "strokeWidth": 2},
                   "encoding": {"x": {"field": "t", "type": "quantitative"}, "y": {"field": "v", "type": "quantitative"}}},
                  {"data": {"name": "headCurve"}, "mark": {"type": "point", "shape": "triangle", "filled": true, "color": "black", "size": 70, "angle": 241, "opacity": 1},
                   "encoding": {"x": {"field": "t", "type": "quantitative"}, "y": {"field": "v", "type": "quantitative"}}},
                  {"data": {"name": "headStraight"}, "mark": {"type": "point", "shape": "triangle", "filled": true, "color": "black", "size": 70, "angle": 217, "opacity": 1},
                   "encoding": {"x": {"field": "t", "type": "quantitative"}, "y": {"field": "v", "type": "quantitative"}}}
                ]
              }
            ]
          }
        ]
      }
    ]
  }
],
"spacing": 54
}
